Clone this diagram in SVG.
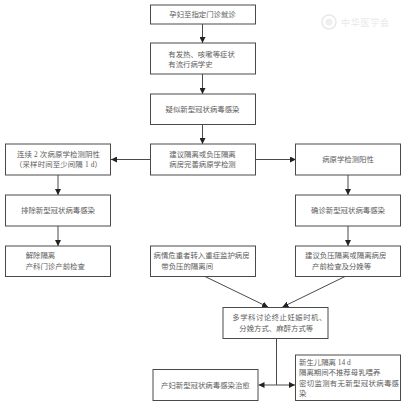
<svg xmlns="http://www.w3.org/2000/svg" width="403" height="405" viewBox="0 0 403 405">
<style>
.b{fill:#fff;stroke:#4a4a4a;stroke-width:1}
.t{font-family:"Liberation Serif","Noto Sans CJK SC",serif;font-size:7.4px;fill:#5c5c5c}
.m{text-anchor:middle}
.c{fill:none;stroke:#4a4a4a;stroke-width:1}
.w{font-family:"Noto Sans CJK SC",serif;font-size:9px;fill:#e8e8e8}
</style>
<defs>
<marker id="a" markerUnits="userSpaceOnUse" markerWidth="7" markerHeight="6" refX="6" refY="3" orient="auto"><path d="M0 0L6 3L0 6Z" fill="#222"/></marker>
</defs>
<g id="watermark"><circle cx="329" cy="22" r="7" fill="none" stroke="#e8e8e8" stroke-width="1.500"/><circle cx="329" cy="22" r="3.500" fill="#efefef"/><text class="w" x="341" y="26" textLength="48">中华医学会</text></g>
<g id="connectors">
<path class="c" marker-end="url(#a)" d="M202.500 24V43"/>
<path class="c" marker-end="url(#a)" d="M202.500 74V94"/>
<path class="c" marker-end="url(#a)" d="M202.500 124V144"/>
<path class="c" marker-end="url(#a)" d="M150 159.500H111"/>
<path class="c" marker-end="url(#a)" d="M255 159.500H296"/>
<path class="c" marker-end="url(#a)" d="M58 175V195"/>
<path class="c" marker-end="url(#a)" d="M58 226V246"/>
<path class="c" marker-end="url(#a)" d="M348 175V195"/>
<path class="c" marker-end="url(#a)" d="M348 226V246"/>
<path class="c" marker-end="url(#a)" d="M205 276.500L268 307"/>
<path class="c" marker-end="url(#a)" d="M345 276.500L282.500 307"/>
<path class="c" d="M276.500 338V385"/>
<path class="c" marker-end="url(#a)" d="M276.500 385H258.500"/>
<path class="c" marker-end="url(#a)" d="M276.500 385H295"/>
</g>
<g id="n1"><rect class="b" x="150.500" y="5" width="105" height="19"/><text class="t m" x="202.500" y="17.200">孕妇至指定门诊就诊</text></g>
<g id="n2"><rect class="b" x="150.500" y="43" width="105" height="31"/><text class="t" x="168.300" y="56.500">有发热、咳嗽等症状</text><text class="t" x="168.300" y="66.500">有流行病学史</text></g>
<g id="n3"><rect class="b" x="150.500" y="94" width="105" height="30.500"/><text class="t m" x="202.500" y="111.700">疑似新型冠状病毒感染</text></g>
<g id="n4"><rect class="b" x="150.500" y="144" width="105" height="31"/><text class="t m" x="202.500" y="156.700">建议隔离或负压隔离</text><text class="t m" x="202.500" y="167.400">病房完善病原学检测</text></g>
<g id="n5"><rect class="b" x="5.500" y="144" width="105" height="31"/><text class="t" x="17" y="157.400" textLength="83">连续 2 次病原学检测阴性</text><text class="t" x="15" y="167.400" textLength="87">（采样时间至少间隔 1 d）</text></g>
<g id="n6"><rect class="b" x="295.500" y="144" width="105" height="31"/><text class="t m" x="348" y="162">病原学检测阳性</text></g>
<g id="n7"><rect class="b" x="5.500" y="195" width="105" height="31"/><text class="t m" x="58" y="213.400">排除新型冠状病毒感染</text></g>
<g id="n8"><rect class="b" x="295.500" y="195" width="105" height="31"/><text class="t m" x="348" y="213.400">确诊新型冠状病毒感染</text></g>
<g id="n9"><rect class="b" x="5.500" y="246" width="105" height="30.500"/><text class="t" x="25.700" y="258.400">解除隔离</text><text class="t" x="25.700" y="268.700">产科门诊产前检查</text></g>
<g id="n10"><rect class="b" x="150.500" y="246" width="105" height="30.500"/><text class="t" x="153.500" y="258.400">病情危重者转入重症监护病房</text><text class="t" x="161.300" y="268.700">带负压的隔离间</text></g>
<g id="n11"><rect class="b" x="295.500" y="246" width="105" height="30.500"/><text class="t" x="305" y="258.400">建议负压隔离或隔离病房</text><text class="t" x="312" y="268.700">产前检查及分娩等</text></g>
<g id="n12"><rect class="b" x="223" y="307.500" width="105" height="31"/><text class="t" x="232.300" y="320.400" textLength="94">多学科讨论终止妊娠时机、</text><text class="t" x="239.300" y="330.700">分娩方式、麻醉方式等</text></g>
<g id="n13"><rect class="b" x="153" y="369.500" width="105" height="31"/><text class="t" x="161" y="387.700">产妇新型冠状病毒感染治愈</text></g>
<g id="n14"><rect class="b" x="295.500" y="355" width="105" height="45.500"/><text class="t" x="299" y="365">新生儿隔离 14 d</text><text class="t" x="299" y="375.400">隔离期间不推荐母乳喂养</text><text class="t" x="299" y="385.700" textLength="100">密切监测有无新型冠状病毒感</text><text class="t" x="299" y="395.700">染</text></g>
</svg>
